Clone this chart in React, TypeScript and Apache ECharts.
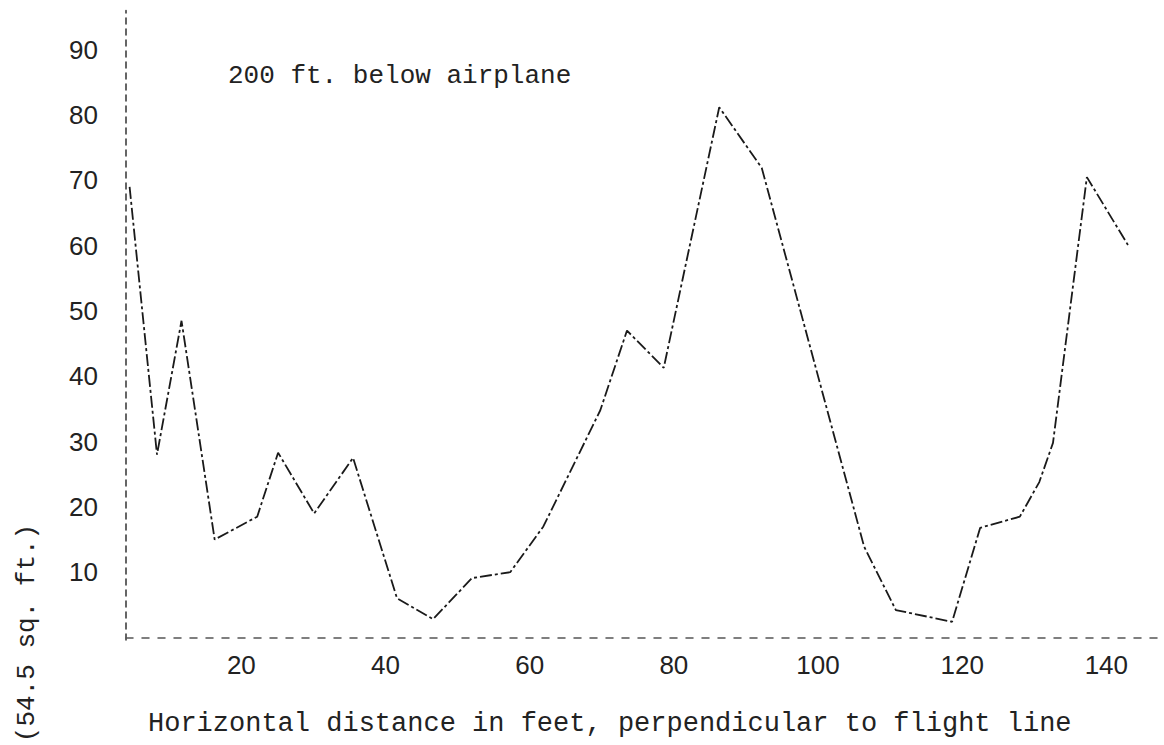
import React, { useEffect, useRef } from "react";
import * as echarts from "echarts";

const distances: number[] = [
  4.5, 8.3, 11.7, 16.3, 22.2, 25.1, 30.1, 35.5, 41.6, 46.6, 52, 57.3, 61.9,
  69.8, 73.5, 78.6, 86.3, 92.2, 106.4, 110.8, 118.6, 122.5, 128, 130.7, 132.6,
  137.3, 143,
];
const values: number[] = [
  69, 28, 48.5, 15, 18.5, 28.3, 19, 27.5, 6, 2.8, 9.1, 10, 17,
  34.8, 47, 41.3, 81.2, 71.9, 13.9, 4.2, 2.4, 16.8, 18.5, 23.8, 29.8,
  70.5, 60.1,
];
const xTicks: number[] = [20, 40, 60, 80, 100, 120, 140];
const yTicks: number[] = [10, 20, 30, 40, 50, 60, 70, 80, 90];

const annotation = "200 ft. below airplane";
const xTitle = "Horizontal distance in feet, perpendicular to flight line";
const yTitle = "(54.5 sq. ft.)";

export default function App() {
  const ref = useRef<HTMLDivElement>(null);
  useEffect(() => {
    if (!ref.current) return;
    const chart = echarts.init(ref.current, null, { renderer: "svg" });
    const mono = "'Liberation Mono', 'DejaVu Sans Mono', monospace";
    const sans = "'Liberation Sans', 'DejaVu Sans', sans-serif";
    chart.setOption({
      animation: false,
      backgroundColor: "#ffffff",
      grid: { left: 126, right: 0, top: 10.6, bottom: 104.9 },
      xAxis: {
        type: "value",
        min: 4,
        max: 148,
        splitLine: { show: false },
        axisTick: { show: false },
        axisLine: {
          show: true,
          lineStyle: { color: "#555", width: 1.5, type: [7, 9] },
        },
        axisLabel: {
          customValues: xTicks,
          margin: 12,
          color: "#222",
          fontFamily: sans,
          fontSize: 26,
        },
      },
      yAxis: {
        type: "value",
        min: -0.4,
        max: 96,
        splitLine: { show: false },
        axisTick: { show: false },
        axisLine: {
          show: true,
          lineStyle: { color: "#333", width: 1.5, type: [6, 5] },
        },
        axisLabel: {
          customValues: yTicks,
          margin: 28,
          color: "#222",
          fontFamily: sans,
          fontSize: 26,
        },
      },
      series: [
        {
          type: "line",
          data: distances.map((d, i) => [d, values[i]]),
          symbol: "none",
          lineStyle: { color: "#1a1a1a", width: 1.8, type: [12, 3, 3, 3] },
        },
      ],
      graphic: [
        {
          type: "text",
          left: 228,
          top: 63,
          style: {
            text: annotation,
            fontFamily: mono,
            fontSize: 26,
            fill: "#222",
          },
        },
        {
          type: "text",
          left: 148,
          top: 710,
          style: {
            text: xTitle,
            fontFamily: mono,
            fontSize: 27,
            fill: "#222",
          },
        },
        {
          type: "text",
          x: 27,
          y: 633,
          rotation: Math.PI / 2,
          style: {
            text: yTitle,
            fontFamily: mono,
            fontSize: 26,
            fill: "#222",
            align: "center",
            verticalAlign: "middle",
          },
        },
      ],
    });
    return () => chart.dispose();
  }, []);
  return (
    <div
      ref={ref}
      style={{
        position: "absolute",
        left: 0,
        top: 0,
        width: 1164,
        height: 745,
        background: "#fff",
      }}
    />
  );
}
